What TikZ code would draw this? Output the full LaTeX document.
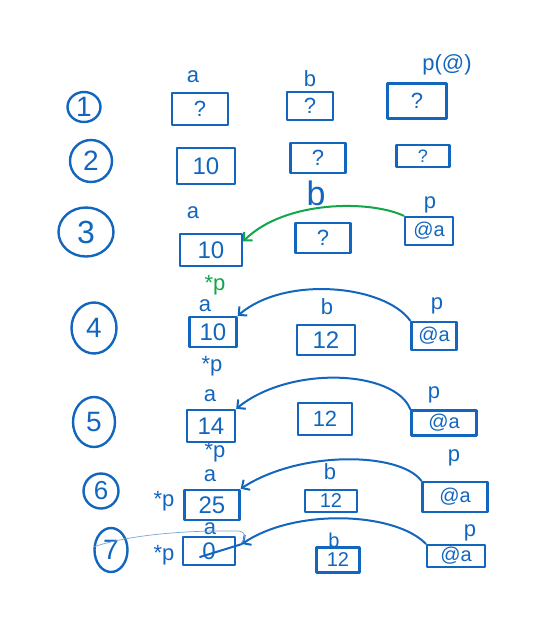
\documentclass[tikz,border=0pt]{standalone}
\usepackage{fontspec}
\setmainfont{Liberation Sans}
\usetikzlibrary{arrows.meta,shapes.geometric}
\definecolor{inkblue}{RGB}{18,102,190}
\definecolor{inkgreen}{RGB}{16,166,74}
\definecolor{inkfaint}{RGB}{120,165,215}
\newcommand{\hwsize}[1]{\fontsize{#1}{#1}\selectfont}
\begin{document}
\begin{tikzpicture}[x=1pt,y=-1pt,
  stroke/.style={draw=inkblue,line width=2.4pt,line cap=round,line join=round},
  cell/.style={stroke,rectangle,inner sep=0pt,text=inkblue,font=\hwsize{24}},
  qcell/.style={cell,font=\hwsize{22}},
  acell/.style={cell,font=\hwsize{20}},
  tag/.style={text=inkblue,inner sep=0pt,font=\hwsize{22}},
  stepno/.style={stroke,ellipse,inner sep=0pt,text=inkblue,font=\hwsize{28}},
  ptr/.style={draw=inkblue,line width=2pt,line cap=round,line join=round,
    -{Straight Barb[length=6pt,width=12pt]}},
]
\useasboundingbox[fill=white] (0,0) rectangle (557,619);

% step 1
\node[stepno,minimum width=33,minimum height=30] (c1) at (84,107) {1};
\node[tag] (la1) at (193,77) {a};
\node[qcell,minimum width=56,minimum height=32] (a1) at (200,109) {?};
\node[tag] (lb1) at (310,79) {b};
\node[qcell,minimum width=46,minimum height=28] (b1) at (310,106) {?};
\node[tag] (lp1) at (447,65) {p(@)};
\node[qcell,minimum width=59,minimum height=35] (p1) at (417,101) {?};

% step 2
\node[stepno,minimum width=42,minimum height=42] (c2) at (91,161) {2};
\node[cell,minimum width=58,minimum height=36] (a2) at (206,166) {10};
\node[qcell,minimum width=55,minimum height=30] (b2) at (318,158) {?};
\node[qcell,minimum width=53,minimum height=22,font=\hwsize{18}] (p2) at (423,156) {?};

% step 3
\node[stepno,minimum width=55,minimum height=49,font=\hwsize{32}] (c3) at (86,232) {3};
\node[tag] (la3) at (193,213) {a};
\node[cell,minimum width=62,minimum height=32] (a3) at (211,250) {10};
\node[tag,font=\hwsize{34}] (lb3) at (316,193) {b};
\node[qcell,minimum width=55,minimum height=30] (b3) at (323,238) {?};
\node[tag] (lp3) at (430,205) {p};
\node[acell,minimum width=48,minimum height=28] (p3) at (429,231) {@a};
\node[tag,text=inkgreen] (s3) at (215,285) {*p};
\draw[ptr,draw=inkgreen] (p3.north west) .. controls (370,200) and (285,200) .. (a3.15);

% step 4
\node[stepno,minimum width=45,minimum height=51] (c4) at (94,328) {4};
\node[tag] (la4) at (205,306) {a};
\node[cell,minimum width=47,minimum height=30] (a4) at (213,332) {10};
\node[tag] (lb4) at (327,307) {b};
\node[cell,minimum width=58,minimum height=30] (b4) at (326,340) {12};
\node[tag] (lp4) at (437,306) {p};
\node[acell,minimum width=45,minimum height=28] (p4) at (434,336) {@a};
\node[tag] (s4) at (212,366) {*p};
\draw[ptr] (p4.north west) .. controls (385,285) and (285,275) .. (a4.north east);

% step 5
\node[stepno,minimum width=42,minimum height=50] (c5) at (94,422) {5};
\node[tag] (la5) at (210,396) {a};
\node[cell,minimum width=48,minimum height=32] (a5) at (211,426) {14};
\node[cell,minimum width=54,minimum height=32,font=\hwsize{22}] (b5) at (325,419) {12};
\node[tag] (lp5) at (434,395) {p};
\node[acell,minimum width=65,minimum height=25] (p5) at (444,423) {@a};
\node[tag] (s5) at (215,452) {*p};
\draw[ptr] (p5.north west) .. controls (395,370) and (290,365) .. (a5.north east);

% step 6
\node[stepno,minimum width=35,minimum height=35,font=\hwsize{26}] (c6) at (101,491) {6};
\node[tag] (la6) at (210,476) {a};
\node[tag] (s6) at (164,501) {*p};
\node[cell,minimum width=55,minimum height=30] (a6) at (212,505) {25};
\node[tag] (lb6) at (330,472) {b};
\node[cell,minimum width=52,minimum height=22,font=\hwsize{20}] (b6) at (331,501) {12};
\node[tag] (lp6) at (454,458) {p};
\node[acell,minimum width=65,minimum height=30] (p6) at (455,497) {@a};
\draw[ptr] (p6.north west) .. controls (400,452) and (300,450) .. (a6.north east);

% step 7
\node[stepno,minimum width=33,minimum height=44] (c7) at (111,550) {7};
\node[tag] (la7) at (210,529) {a};
\node[tag] (s7) at (164,555) {*p};
\node[cell,minimum width=52,minimum height=28] (a7) at (209,551) {0};
\node[tag,font=\hwsize{20}] (lb7) at (334,540) {b};
\node[cell,minimum width=43,minimum height=25,font=\hwsize{20}] (b7) at (338,560) {12};
\node[tag] (lp7) at (470,533) {p};
\node[acell,minimum width=58,minimum height=22] (p7) at (456,556) {@a};
\coordinate (hit7) at (242,544);
\coordinate (cross7) at (200,557);
\draw[ptr] (p7.north west) .. controls (395,512) and (295,508) .. (hit7);
\draw[stroke,line width=2pt] (hit7) -- (cross7);
% faint pen stroke running from the step mark to the box
\draw[draw=inkfaint,line width=0.7pt,line cap=round]
  (c7.170) .. controls (125,536) and (180,530) .. (238,531)
  .. controls (247,532) and (246,538) .. (241,543);
\end{tikzpicture}
\end{document}
